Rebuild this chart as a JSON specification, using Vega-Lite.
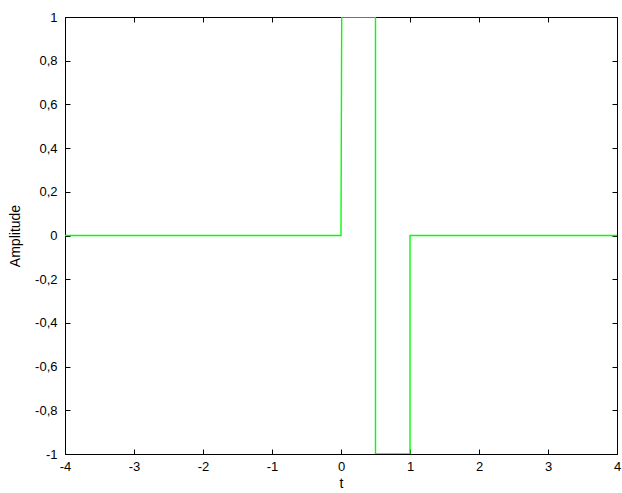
{
  "$schema": "https://vega.github.io/schema/vega-lite/v6.json",
  "width": 552,
  "height": 437,
  "autosize": {"type": "none"},
  "padding": {"left": 65, "top": 17, "right": 5, "bottom": 39},
  "background": "white",
  "config": {
    "view": {"stroke": "#000000", "strokeWidth": 1},
    "font": "Liberation Sans",
    "axis": {
      "grid": false,
      "domain": false,
      "tickColor": "#000000",
      "tickSize": -5,
      "labelFont": "Liberation Sans",
      "labelFontSize": 13,
      "labelColor": "#000000",
      "titleFont": "Liberation Sans",
      "titleFontSize": 14,
      "titleFontWeight": "normal",
      "titleColor": "#000000"
    }
  },
  "data": {
    "values": [
      {"i": 0, "t": -4, "amp": 0},
      {"i": 1, "t": 0, "amp": 0},
      {"i": 2, "t": 0.01, "amp": 1},
      {"i": 3, "t": 0.5, "amp": 1},
      {"i": 4, "t": 0.5, "amp": -1},
      {"i": 5, "t": 1, "amp": -1},
      {"i": 6, "t": 1, "amp": 0},
      {"i": 7, "t": 4, "amp": 0}
    ]
  },
  "resolve": {"axis": {"x": "independent", "y": "independent"}},
  "layer": [
    {
      "mark": {"type": "line", "color": "#00ff00", "strokeWidth": 1.4, "clip": true},
      "encoding": {
        "order": {"field": "i", "type": "quantitative"},
        "x": {
          "field": "t", "type": "quantitative",
          "scale": {"domain": [-4, 4], "nice": false, "zero": false},
          "axis": {
            "orient": "bottom", "title": "t",
            "values": [-4, -3, -2, -1, 0, 1, 2, 3, 4],
            "labelExpr": "replace(format(datum.value, 'd'), '\u2212', '-')",
            "labelPadding": 11, "titlePadding": 3, "labelFlush": false
          }
        },
        "y": {
          "field": "amp", "type": "quantitative",
          "scale": {"domain": [-1, 1], "nice": false, "zero": false},
          "axis": {
            "orient": "left", "title": "Amplitude",
            "values": [-1, -0.8, -0.6, -0.4, -0.2, 0, 0.2, 0.4, 0.6, 0.8, 1],
            "labelExpr": "replace(replace(format(datum.value, '.1~f'), '.', ','), '\u2212', '-')",
            "labelPadding": 13, "titlePadding": 12, "labelFlush": false
          }
        }
      }
    },
    {
      "mark": {"type": "line", "opacity": 0},
      "encoding": {
        "x": {
          "field": "t", "type": "quantitative",
          "scale": {"domain": [-4, 4], "nice": false, "zero": false},
          "axis": {"orient": "top", "title": null, "labels": false, "values": [-4, -3, -2, -1, 0, 1, 2, 3, 4]}
        },
        "y": {
          "field": "amp", "type": "quantitative",
          "scale": {"domain": [-1, 1], "nice": false, "zero": false},
          "axis": {"orient": "right", "title": null, "labels": false, "values": [-1, -0.8, -0.6, -0.4, -0.2, 0, 0.2, 0.4, 0.6, 0.8, 1]}
        }
      }
    }
  ]
}
